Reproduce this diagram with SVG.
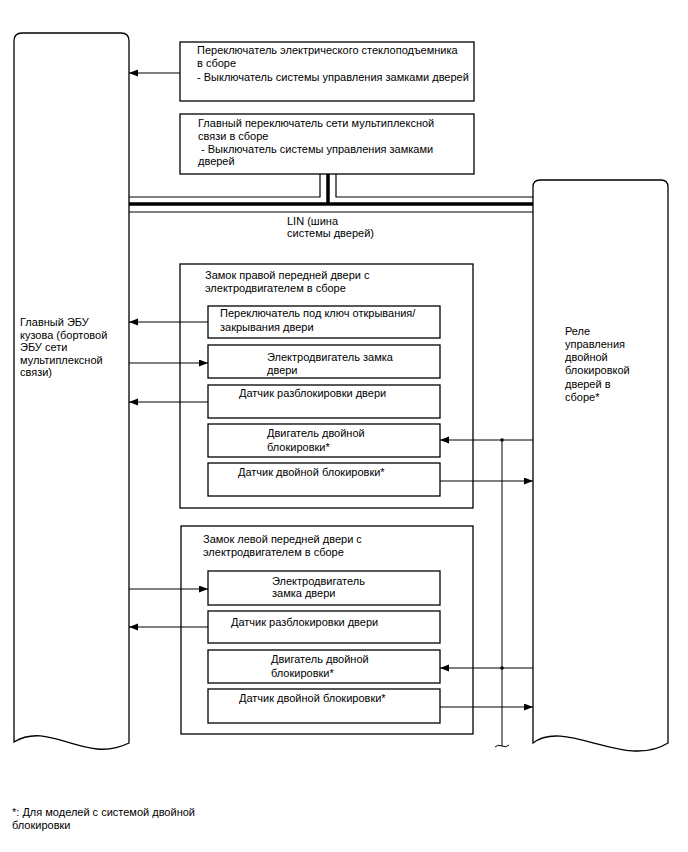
<svg xmlns="http://www.w3.org/2000/svg" width="688" height="852" viewBox="0 0 688 852">
<defs>
<style>
text{font-family:"Liberation Sans",Arial,sans-serif;font-size:11px;fill:#000}
.box{fill:#fff;stroke:#000;stroke-width:1.3}
.ln{fill:none;stroke:#000;stroke-width:1}
.bus{fill:none;stroke:#000;stroke-width:1.2}
.thick{fill:none;stroke:#000;stroke-width:3.5}
</style>
<marker id="ah" markerUnits="userSpaceOnUse" markerWidth="10" markerHeight="8" refX="9" refY="3.5" orient="auto">
<path d="M0,0 L9,3.5 L0,7 z" fill="#000"/>
</marker>
</defs>
<rect width="688" height="852" fill="#fff"/>

<g id="ecu">
<path class="box" d="M14,742 L14,41 Q14,33 22,33 L121,33 Q129,33 129,41 L129,743 C85,765 50,720 14,742 Z"/>
<text x="20" y="326">Главный ЭБУ</text>
<text x="20" y="338.5">кузова (бортовой</text>
<text x="20" y="351">ЭБУ сети</text>
<text x="20" y="364">мультиплексной</text>
<text x="20" y="376">связи)</text>
</g>

<g id="relay">
<path class="box" d="M533,743 L533,187 Q533,180 540,180 L661,180 Q668,180 668,187 L668,743 C625,770 565,718 533,743 Z"/>
<text x="565" y="335">Реле</text>
<text x="565" y="348">управления</text>
<text x="565" y="361">двойной</text>
<text x="565" y="374">блокировкой</text>
<text x="565" y="388">дверей в</text>
<text x="565" y="401">сборе*</text>
</g>

<g id="window-switch">
<rect class="box" x="180" y="42" width="294" height="59"/>
<text x="197" y="54">Переключатель электрического стеклоподъемника</text>
<text x="197" y="67">в сборе</text>
<text x="197" y="81">- Выключатель системы управления замками дверей</text>
</g>

<g id="master-switch">
<rect class="box" x="180" y="114" width="294" height="60"/>
<text x="198" y="127">Главный переключатель сети мультиплексной</text>
<text x="198" y="140">связи в сборе</text>
<text x="201" y="153">- Выключатель системы управления замками</text>
<text x="198" y="165">дверей</text>
</g>

<g id="lin-label">
<text x="287" y="225">LIN (шина</text>
<text x="287" y="237">системы дверей)</text>
</g>

<g id="rf-lock">
<rect class="box" x="180" y="264" width="293" height="244"/>
<text x="205" y="279">Замок правой передней двери с</text>
<text x="205" y="292">электродвигателем в сборе</text>
</g>
<g id="rf-key-switch">
<rect class="box" x="208" y="306" width="232" height="32"/>
<text x="220" y="317">Переключатель под ключ открывания/</text>
<text x="220" y="331">закрывания двери</text>
</g>
<g id="rf-motor">
<rect class="box" x="208" y="345" width="232" height="33"/>
<text x="267" y="361">Электродвигатель замка</text>
<text x="267" y="374">двери</text>
</g>
<g id="rf-unlock-sensor">
<rect class="box" x="208" y="385" width="232" height="33"/>
<text x="239" y="397">Датчик разблокировки двери</text>
</g>
<g id="rf-dl-motor">
<rect class="box" x="208" y="424" width="232" height="33"/>
<text x="267" y="437">Двигатель двойной</text>
<text x="267" y="451">блокировки*</text>
</g>
<g id="rf-dl-sensor">
<rect class="box" x="208" y="463" width="232" height="33"/>
<text x="238" y="476">Датчик двойной блокировки*</text>
</g>

<g id="lf-lock">
<rect class="box" x="181" y="526" width="292" height="208"/>
<text x="203" y="543">Замок левой передней двери с</text>
<text x="203" y="556">электродвигателем в сборе</text>
</g>
<g id="lf-motor">
<rect class="box" x="208" y="571" width="232" height="34"/>
<text x="272" y="585">Электродвигатель</text>
<text x="272" y="597">замка двери</text>
</g>
<g id="lf-unlock-sensor">
<rect class="box" x="208" y="611" width="232" height="32"/>
<text x="231" y="626">Датчик разблокировки двери</text>
</g>
<g id="lf-dl-motor">
<rect class="box" x="208" y="650" width="232" height="33"/>
<text x="271" y="663">Двигатель двойной</text>
<text x="271" y="677">блокировки*</text>
</g>
<g id="lf-dl-sensor">
<rect class="box" x="208" y="689" width="232" height="34"/>
<text x="239" y="702">Датчик двойной блокировки*</text>
</g>

<g id="connectors">
<path class="ln" d="M180,73 L129,73" marker-end="url(#ah)"/>
<path class="bus" d="M129,197 L320,197 L320,174"/>
<path class="bus" d="M336,174 L336,197 L533,197"/>
<path class="thick" d="M129,204 L533,204 M328,174 L328,204"/>
<path class="bus" d="M129,212 L533,212"/>

<path class="ln" d="M208,322 L129,322" marker-end="url(#ah)"/>
<path class="ln" d="M129,363 L208,363" marker-end="url(#ah)"/>
<path class="ln" d="M208,402 L129,402" marker-end="url(#ah)"/>
<path class="ln" d="M533,440 L440,440" marker-end="url(#ah)"/>
<path class="ln" d="M440,481 L533,481" marker-end="url(#ah)"/>

<path class="ln" d="M129,589 L208,589" marker-end="url(#ah)"/>
<path class="ln" d="M208,627 L129,627" marker-end="url(#ah)"/>
<path class="ln" d="M533,668 L440,668" marker-end="url(#ah)"/>
<path class="ln" d="M440,707 L533,707" marker-end="url(#ah)"/>

<path class="ln" d="M502,440 L502,746"/>
<path class="ln" d="M495,747 Q498,744 502,746 T509,745"/>
<circle cx="502" cy="440" r="1.8" fill="#000"/>
<circle cx="502" cy="668" r="1.8" fill="#000"/>
</g>

<g id="footnote">
<text x="12" y="816">*: Для моделей с системой двойной</text>
<text x="12" y="829">блокировки</text>
</g>
</svg>
